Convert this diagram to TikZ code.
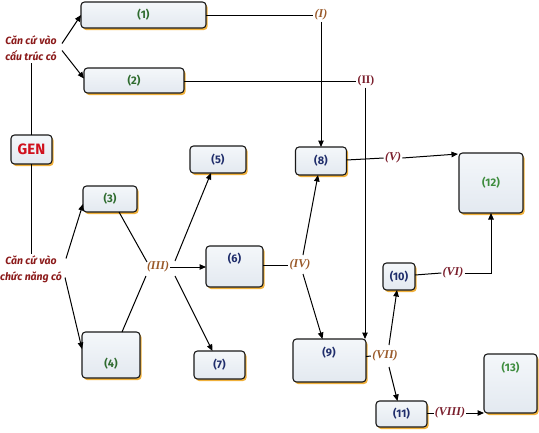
\documentclass[tikz,border=0pt]{standalone}
\usepackage{fontspec}
\setmainfont{Fira Sans}
\newfontfamily\labfont{Liberation Serif}
\usetikzlibrary{shadows,calc,arrows.meta}
\definecolor{boxtop}{HTML}{F4F7FA}
\definecolor{boxbot}{HTML}{E3E9F0}
\definecolor{shadoworange}{HTML}{F0B03A}
\definecolor{numgreen}{HTML}{2E6B2E}
\definecolor{numgreen2}{HTML}{3D8C3D}
\definecolor{numblue}{HTML}{1F2D6B}
\definecolor{labbrown}{HTML}{9A5A2A}
\definecolor{labred}{HTML}{7A1E2C}
\definecolor{genred}{HTML}{D0101C}
\definecolor{basisred}{HTML}{8B1A1A}
\begin{document}
\begin{tikzpicture}[x=1pt,y=-1pt,
  box/.style={draw=black!90, line width=1.1pt, rounded corners=3.5pt, top color=boxtop, bottom color=boxbot,
    drop shadow={shadow xshift=1.6pt, shadow yshift=-2pt, fill=shadoworange, opacity=1},
    inner sep=0pt, outer sep=0pt, font=\bfseries\fontsize{11}{12}\selectfont},
  numtext/.style={inner sep=0pt, font=\bfseries\fontsize{11}{12}\selectfont},
  basis/.style={align=center, inner sep=2pt, text=basisred, font=\bfseries\itshape\fontsize{10.5}{16}\selectfont},
  labi/.style={inner sep=1.2pt, font=\labfont\bfseries\itshape\fontsize{12}{13}\selectfont},
  labu/.style={inner sep=1.2pt, font=\labfont\bfseries\fontsize{11.5}{13}\selectfont},
  ln/.style={line width=1pt, draw=black},
  arr/.style={ln, -{Triangle[length=6.5pt,width=5.5pt]}}
]
\useasboundingbox (0,0) rectangle (539,432);
% boxes
\node[box, minimum width=125pt, minimum height=26pt, text=numgreen] (b1) at (143.5,15) {(1)};
\node[box, minimum width=100pt, minimum height=25pt, text=numgreen] (b2) at (134,80.5) {(2)};
\node[box, minimum width=41pt, minimum height=29pt, text=genred, font=\bfseries\fontsize{15}{16}\selectfont] (gen) at (31.5,149.5) {GEN};
\node[box, minimum width=54pt, minimum height=26pt, text=numgreen] (b3) at (110,199) {(3)};
\node[box, minimum width=58pt, minimum height=46pt] (b4) at (111,355) {};
\node[numtext, text=numgreen] (t4) at (111,364) {(4)};
\node[box, minimum width=56pt, minimum height=27pt, text=numblue] (b5) at (218,159.5) {(5)};
\node[box, minimum width=57pt, minimum height=41pt] (b6) at (234.5,266.5) {};
\node[numtext, text=numblue] (t6) at (234.5,259) {(6)};
\node[box, minimum width=51pt, minimum height=28pt, text=numblue] (b7) at (219.5,365) {(7)};
\node[box, minimum width=51pt, minimum height=28pt, text=numblue] (b8) at (321,161) {(8)};
\node[box, minimum width=73pt, minimum height=43pt] (b9) at (329.5,360.5) {};
\node[numtext, text=numblue] (t9) at (329,353) {(9)};
\node[box, minimum width=32pt, minimum height=27pt, text=numblue] (b10) at (399,276.5) {(10)};
\node[box, minimum width=51pt, minimum height=26pt, text=numblue] (b11) at (401.5,414) {(11)};
\node[box, minimum width=64pt, minimum height=60pt, text=numgreen2] (b12) at (491,183) {(12)};
\node[box, minimum width=53pt, minimum height=59pt] (b13) at (510.5,383.5) {};
\node[numtext, text=numgreen2] (t13) at (510.5,368) {(13)};
% basis texts
\node[basis] (c1) at (31,48.5) {Căn cứ vào\\cấu trúc có};
\node[basis] (c2) at (31,269.5) {Căn cứ vào\\chức năng có};
% roman labels
\node[labi, text=labbrown] (I) at (321,15) {(I)};
\node[labu, text=labred] (II) at (366,81) {(II)};
\node[labi, text=labbrown] (III) at (158,267) {(III)};
\node[labi, text=labbrown] (IV) at (300,265) {(IV)};
\node[labi, text=labred] (V) at (393,158) {(V)};
\node[labi, text=labred] (VI) at (453,273) {(VI)};
\node[labi, text=labbrown] (VII) at (385,356) {(VII)};
\node[labi, text=labred] (VIII) at (450,413) {(VIII)};
% connectors
\draw[ln] (gen.north) -- (gen.north |- c1.south);
\draw[ln] (gen.south) -- (gen.south |- c2.north);
\draw[arr] ($(c1)+(31,-5)$) -- (b1.west);
\draw[arr] ($(c1)+(31,2)$) -- ($(b2.west)+(0,-2)$);
\draw[arr] ($(c2)+(35,-11)$) -- ($(b3.west)+(0,5)$);
\draw[arr] ($(c2)+(34,8)$) -- ($(b4.west)+(0,-6)$);
\draw[ln] ($(b3.south)+(9,0)$) -- ($(III)+(-11,-5)$);
\draw[ln] ($(b4.north)+(11,0)$) -- ($(III)+(-12,9)$);
\draw[arr] ($(III)+(17,-6)$) -- ($(b5.south)+(-7,0)$);
\draw[arr] (III.east) -- (III.east -| b6.west);
\draw[arr] ($(III)+(17,9)$) -- ($(b7.north)+(-7,0)$);
\draw[ln] (b1.east |- I) -- (I.west);
\draw[arr] (I.south) -- (I.south |- b8.north);
\draw[ln] (b2.east |- II) -- (II.west);
\draw[arr] ($(II.south)+(-1,0)$) -- ($(II.south |- b9.north)+(-1,0)$);
\draw[ln] (b6.east |- IV) -- (IV.west);
\draw[arr] ($(IV)+(3,-10)$) -- ($(b8.south)+(-3,0)$);
\draw[arr] ($(IV)+(3,9)$) -- ($(b9.north)+(-7,0)$);
\draw[ln] ($(b8.east)+(0,-1)$) -- (V.west);
\draw[arr] (V.east) -- ($(b12.north west)+(-1,1)$);
\draw[ln] ($(b10.east)+(0,-1.5)$) -- (VI.west);
\draw[arr] (VI.east) -- (VI.east -| b12.south) -- (b12.south);
\draw[ln] ($(b9.east)+(0,-4)$) -- (VII.west);
\draw[arr] ($(VII)+(4,-11)$) -- ($(b10.south)+(-2,0)$);
\draw[arr] ($(VII)+(4,11)$) -- ($(b11.north)+(-4,0)$);
\draw[ln] (b11.east |- VIII) -- (VIII.west);
\draw[arr] (VIII.east) -- (VIII.east -| b13.west);
\end{tikzpicture}
\end{document}
